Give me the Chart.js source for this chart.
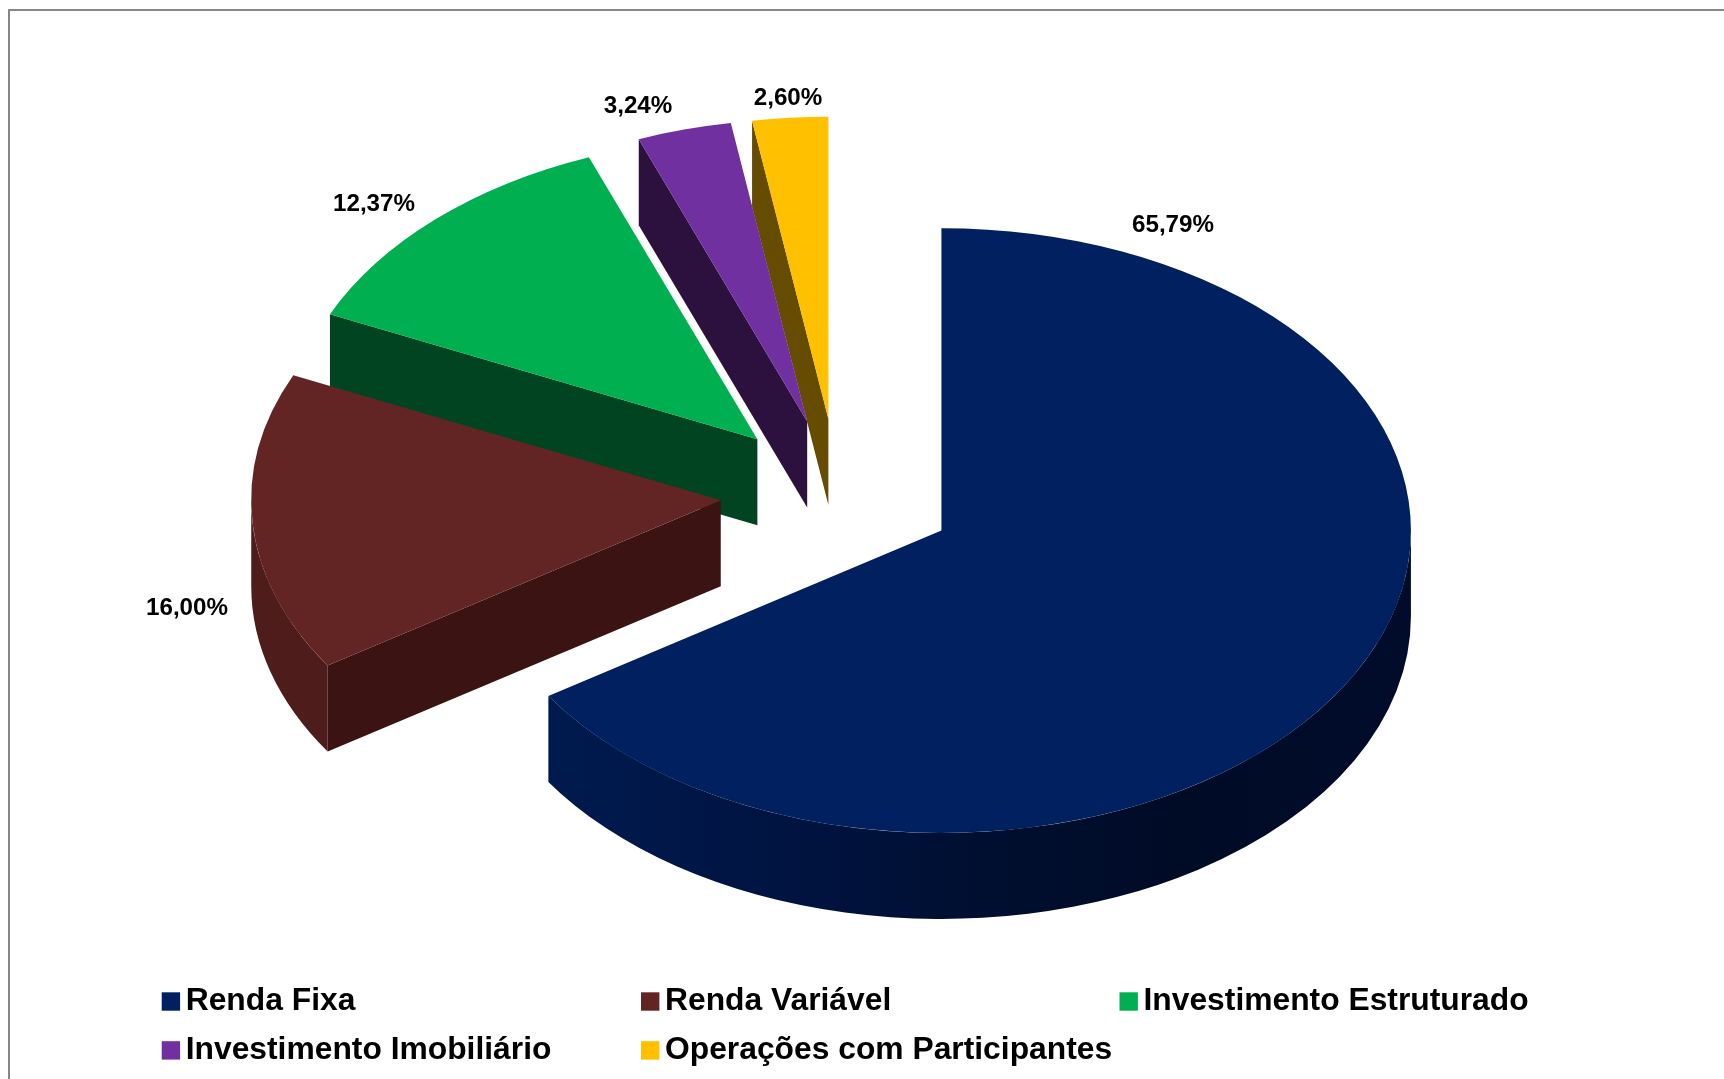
<!DOCTYPE html>
<html lang="pt-BR">
<head>
<meta charset="utf-8">
<title>Alocação de investimentos</title>
<style>
html,body{margin:0;padding:0;background:#fff;overflow:hidden}
canvas{display:block}
</style>
<script src="https://cdn.jsdelivr.net/npm/chart.js@4/dist/chart.umd.min.js"></script>
</head>
<body>
<canvas id="c" width="1724" height="1079"></canvas>
<script>
const categories = ['Renda Fixa','Renda Variável','Investimento Estruturado','Investimento Imobiliário','Operações com Participantes'];
const values = [65.79,16.00,12.37,3.24,2.60];
const topColors = ['#002060','#632523','#00B050','#7030A0','#FFC000'];
const radialWallColors = ['#001030','#3A1312','#014421','#2C113F','#664C00'];
const outerWallColors = ['#001030','#4E1D1B','#014421','#2C113F','#664C00'];

const RADIUS = 469.5, SQUASH = 0.644, EXPLODE = 117.6, DEPTH = 86;
const LABEL_CENTERS = [[1173,225.5],[187,608.5],[374,204.5],[638,106],[788,98.5]];
const LEGEND_COLS = [161.7,641,1119.5], LEGEND_ROWS = [1001.5,1050.4];
const LEGEND_SLOTS = [[0,0],[1,0],[2,0],[0,1],[1,1]];
const FONT = '"Liberation Sans", Arial, sans-serif';

const pie3d = {
  id:'pie3d',
  beforeDraw(chart){
    const ctx = chart.ctx;
    ctx.save();
    ctx.fillStyle = '#fff';
    ctx.fillRect(0,0,chart.width,chart.height);
    ctx.fillStyle = '#868686';
    ctx.fillRect(8,9,chart.width-8,2);
    ctx.fillRect(8,9,2,chart.height-9);
    ctx.restore();
  },
  beforeDatasetDraw(chart,args){
    const ctx = chart.ctx;
    const arcs = chart.getDatasetMeta(args.index).data;
    for(let i = arcs.length-1; i >= 0; i--){
      const arc = arcs[i];
      const {x:cx,y:cy,startAngle,endAngle,outerRadius:r} = arc;
      const mid = (startAngle+endAngle)/2;
      const ax = cx+Math.cos(mid)*EXPLODE, ay = cy+Math.sin(mid)*EXPLODE*SQUASH;
      const ry = r*SQUASH;
      const px = ax+Math.cos(startAngle)*r, py = ay+Math.sin(startAngle)*ry;
      ctx.save();
      // radial wall on the slice's starting edge
      if(i>0){
        ctx.fillStyle = radialWallColors[i];
        ctx.beginPath();
        ctx.moveTo(ax,ay);ctx.lineTo(px,py);ctx.lineTo(px,py+DEPTH);ctx.lineTo(ax,ay+DEPTH);
        ctx.closePath();ctx.fill();
      }
      // rim wall on the front half of the ellipse
      const a1 = Math.max(startAngle,0), a2 = Math.min(endAngle,Math.PI);
      if(a2>a1){
        if(i===0){
          const g = ctx.createLinearGradient(ax-r,0,ax+r,0);
          g.addColorStop(0.1,'#001A4E');
          g.addColorStop(0.35,'#001340');
          g.addColorStop(0.55,'#000F30');
          g.addColorStop(0.75,'#000B26');
          g.addColorStop(1,'#000C2A');
          ctx.fillStyle = g;
        } else ctx.fillStyle = outerWallColors[i];
        ctx.beginPath();
        ctx.ellipse(ax,ay,r,ry,0,a1,a2,false);
        ctx.ellipse(ax,ay+DEPTH,r,ry,0,a2,a1,true);
        ctx.closePath();ctx.fill();
      }
      // top face, drawn by the library's own arc element
      ctx.translate(ax,ay);ctx.scale(1,SQUASH);ctx.translate(-cx,-cy);
      arc.draw(ctx);
      ctx.restore();
    }
    return false;
  },
  afterDatasetsDraw(chart){
    const ctx = chart.ctx;
    ctx.save();
    ctx.fillStyle = '#000';
    ctx.textAlign = 'center';ctx.textBaseline = 'middle';
    ctx.font = 'bold 24.2px '+FONT;
    values.forEach((v,i)=>{
      ctx.fillText(v.toFixed(2).replace('.',',')+'%',LABEL_CENTERS[i][0],LABEL_CENTERS[i][1]);
    });
    ctx.textAlign = 'left';ctx.textBaseline = 'alphabetic';
    ctx.font = 'bold 31.8px '+FONT;
    categories.forEach((name,i)=>{
      const x = LEGEND_COLS[LEGEND_SLOTS[i][0]], y = LEGEND_ROWS[LEGEND_SLOTS[i][1]];
      ctx.fillStyle = topColors[i];
      ctx.fillRect(x,y-9.2,18.4,18.4);
      ctx.fillStyle = '#000';
      ctx.fillText(name,x+24,y+8.5);
    });
    ctx.restore();
  }
};

new Chart(document.getElementById('c'),{
  type:'pie',
  data:{labels:categories,datasets:[{data:values,backgroundColor:topColors,borderWidth:0}]},
  options:{
    responsive:false,animation:false,
    radius:RADIUS,
    layout:{padding:{right:48,bottom:90}},
    plugins:{legend:{display:false},tooltip:{enabled:false},title:{display:false}}
  },
  plugins:[pie3d]
});
</script>
</body>
</html>
